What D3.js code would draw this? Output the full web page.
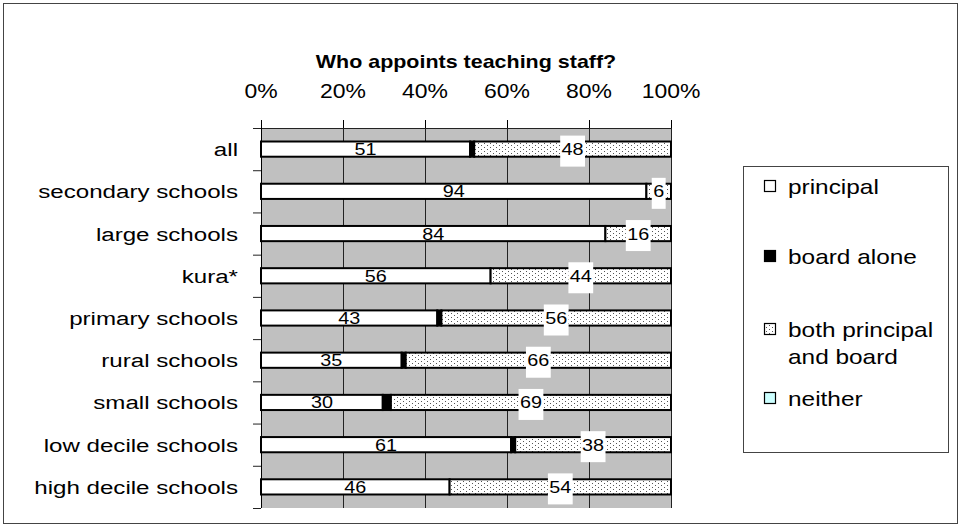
<!DOCTYPE html>
<html><head><meta charset="utf-8">
<script src="https://cdn.jsdelivr.net/npm/d3@7"></script>
<style>
body{margin:0;background:#fff}
svg{display:block}
text{font-family:"Liberation Sans",Arial,sans-serif;fill:#000}
</style>
</head><body>
<svg id="c" width="962" height="528"></svg>
<script>
const title = "Who appoints teaching staff?";
const categories = ["all","secondary schools","large schools","kura*","primary schools","rural schools","small schools","low decile schools","high decile schools"];
const seriesNames = ["principal","board alone","both principal and board","neither"];
const principal = [51,94,84,56,43,35,30,61,46];
const boardAlone = [1,0,0,0,1,1,2,1,0];
const both = [48,6,16,44,56,66,69,38,54];
const neither = [0,0,0,0,0,0,0,0,0];
const tickValues = [0,0.2,0.4,0.6,0.8,1];

const svg = d3.select("#c");
const W = 962, H = 528;
const plot = {left:261, right:671, top:128, bottom:508};

const defs = svg.append("defs");
const pat = defs.append("pattern").attr("id","dots").attr("patternUnits","userSpaceOnUse")
  .attr("width",6).attr("height",4);
pat.append("rect").attr("width",6).attr("height",4).attr("fill","#fff");
pat.append("rect").attr("x",1).attr("y",1).attr("width",1).attr("height",1).attr("fill","#555");
pat.append("rect").attr("x",4).attr("y",3).attr("width",1).attr("height",1).attr("fill","#555");

const fills = ["#ffffff","#000000","url(#dots)","#ccffff"];
const keys = ["p","b","both","n"];

const rows = categories.map((c,i)=>({cat:c,p:principal[i],b:boardAlone[i],both:both[i],n:neither[i]}));
const stack = d3.stack().keys(keys).offset(d3.stackOffsetExpand);
const layers = stack(rows);

const x = d3.scaleLinear().domain([0,1]).range([plot.left,plot.right]);
const y = d3.scaleBand().domain(categories).range([plot.top,plot.bottom]).paddingInner(0.64).paddingOuter(0.32);
const yb = d3.scaleBand().domain(categories).range([plot.top,plot.bottom]);

function stext(g, str, tx, ty, sx, size, anchor, weight){
  return g.append("text").text(str)
    .attr("transform",`translate(${tx},${ty}) scale(${sx},1)`)
    .attr("text-anchor",anchor||"middle")
    .style("font-size",size+"px")
    .style("font-weight",weight||"normal");
}

svg.append("rect").attr("x",3.5).attr("y",3.5).attr("width",W-8).attr("height",H-8)
  .attr("fill","#fff").attr("stroke","#444").attr("stroke-width",1);

stext(svg, title, 466, 68, 1.13, 19, "middle", "bold");

svg.append("rect").attr("x",plot.left).attr("y",plot.top)
  .attr("width",plot.right-plot.left).attr("height",plot.bottom-plot.top).attr("fill","#c0c0c0");

const xAxis = d3.axisTop(x).tickValues(tickValues).tickSize(8).tickFormat("");
const gx = svg.append("g").attr("transform",`translate(0,${plot.top})`).call(xAxis);
gx.select(".domain").remove();
gx.selectAll("line").attr("stroke","#000");
tickValues.forEach(t=>{
  stext(svg, d3.format(".0%")(t), x(t), 98, 1.12, 20.5, "middle");
});
svg.append("g").selectAll("line").data(tickValues).join("line")
  .attr("x1",d=>x(d)+0.5).attr("x2",d=>x(d)+0.5)
  .attr("y1",plot.top).attr("y2",plot.bottom).attr("stroke","#222").attr("stroke-width",1);
svg.append("line").attr("x1",plot.left-8).attr("x2",plot.right).attr("y1",plot.top+0.5).attr("y2",plot.top+0.5)
  .attr("stroke","#222");

const bounds = categories.map(c=>yb(c)).concat([plot.bottom]);
svg.append("g").selectAll("line").data(bounds).join("line")
  .attr("x1",plot.left-8).attr("x2",plot.left).attr("y1",d=>d+0.5).attr("y2",d=>d+0.5).attr("stroke","#222");
svg.append("line").attr("x1",plot.left+0.5).attr("x2",plot.left+0.5).attr("y1",plot.top).attr("y2",plot.bottom).attr("stroke","#000");

categories.forEach(c=>{
  stext(svg, c, 238, yb(c)+yb.bandwidth()/2+7, 1.27, 19, "end");
});

layers.forEach((layer,li)=>{
  svg.append("g").selectAll("rect").data(layer).join("rect")
    .attr("x",d=>x(d[0])).attr("width",d=>Math.max(0,x(d[1])-x(d[0])))
    .attr("y",d=>y(d.data.cat)).attr("height",y.bandwidth())
    .attr("fill",fills[li]).attr("stroke","#000").attr("stroke-width",d=> (d[1]-d[0])>0?2:0);
});

const lblG = svg.append("g");
layers.forEach((layer,li)=>{
  if(keys[li]==="b" || keys[li]==="n") return;
  layer.forEach(d=>{
    const v = d.data[keys[li]];
    if(!v) return;
    const cx = (x(d[0])+x(d[1]))/2;
    const cy = y(d.data.cat)+y.bandwidth()/2;
    if(keys[li]==="both"){
      const str = String(v);
      const w = str.length*10.9+3;
      lblG.append("rect").attr("x",cx-w/2).attr("y",cy-13.5).attr("width",w).attr("height",31).attr("fill","#fff");
    }
    stext(lblG, String(v), cx, cy+6, 1.2, 16.5, "middle");
  });
});

const lg = svg.append("g");
lg.append("rect").attr("x",743.5).attr("y",166.5).attr("width",205).attr("height",286)
  .attr("fill","#fff").attr("stroke","#444");
const legendLines = [["principal"],["board alone"],["both principal","and board"],["neither"]];
const legendY = [187,257,330,399];
seriesNames.forEach((s,i)=>{
  const cy = legendY[i];
  lg.append("rect").attr("x",764.5).attr("y",cy-6.5).attr("width",11).attr("height",11)
    .attr("fill",fills[i]).attr("stroke","#000").attr("stroke-width",1.2);
  legendLines[i].forEach((ln,j)=>{
    stext(lg, ln, 788, cy+7+j*27, 1.22, 20, "start");
  });
});
</script>
</body></html>
